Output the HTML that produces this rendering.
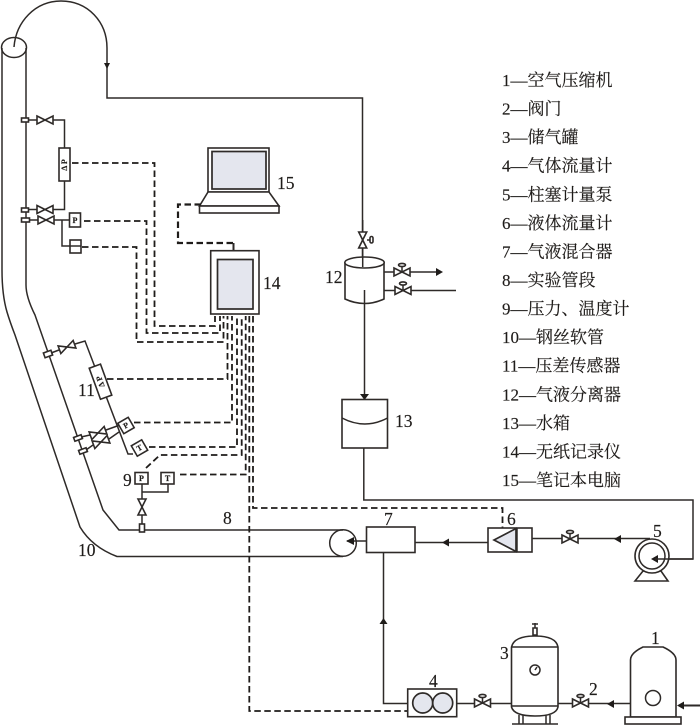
<!DOCTYPE html>
<html>
<head>
<meta charset="utf-8">
<style>
html,body{margin:0;padding:0;background:#fff;width:700px;height:725px;overflow:hidden}
svg{display:block}
.l{fill:none;stroke:#2e2a28;stroke-width:1.5}
.b{fill:#fff;stroke:#2e2a28;stroke-width:1.6}
.g{fill:#e4e6ee;stroke:#2e2a28;stroke-width:1.7}
.d{fill:none;stroke:#1f1c1a;stroke-width:1.8;stroke-dasharray:6.5 3.5}
.a{fill:#1f1c1a;stroke:none}
text{font-family:"Liberation Serif","Noto Serif CJK SC",serif;fill:#1f1c1a;stroke:#1f1c1a;stroke-width:.15}
.n{font-size:17.5px}
.t{font-size:17px}
.s{font-size:8px;font-family:"Liberation Serif",serif;font-weight:bold;text-anchor:middle}
</style>
</head>
<body>
<svg width="700" height="725" viewBox="0 0 700 725" xmlns="http://www.w3.org/2000/svg">
<defs>
<g id="v"><path class="b" d="M-8,-4 L8,4 L8,-4 L-8,4 Z"/></g>
<g id="vh"><path class="b" d="M-8,-4 L8,4 L8,-4 L-8,4 Z"/><path class="l" d="M0,0 V-6"/><ellipse class="b" cx="0" cy="-7" rx="3.5" ry="1.6"/></g>
</defs>

<!-- Pipe -->
<path class="l" d="M2,48 V270 Q2,295 7,312 Q10,322 15,335 L80,527 Q92,547 117,556.5 H343"/>
<path class="l" d="M26,48 V285 Q26,297 35,315 L103,510 L119,530 H343"/>
<ellipse class="l" cx="14" cy="47.5" rx="12.5" ry="10"/>
<circle class="l" cx="343" cy="543" r="13.3"/>

<!-- Arch -->
<path class="l" d="M14,47 C16,22 35,1 61,1 C88,1 107,22 107,48 V98 H362.5 V267"/>
<path class="a" d="M104,63 H110 L107,69 Z"/>

<!-- Upper taps -->
<rect class="b" x="21.5" y="118" width="7" height="4"/>
<use href="#v" x="45" y="120"/>
<path class="l" d="M28,120 H37 M53,120 H64.5 V148 M64.5,181 V209.5 H53 M37,209.5 H28 M28,220 H38 M54,220 H70 M62,220 V246 H70"/>
<rect class="b" x="21.5" y="208" width="7" height="4"/>
<use href="#v" x="45" y="209.5"/>
<rect class="b" x="21.5" y="218" width="8" height="4"/>
<use href="#v" x="46" y="220"/>
<rect class="b" x="59" y="148" width="11" height="33"/>
<text class="s" transform="translate(67,165) rotate(-90)">Δ P</text>
<rect class="b" x="69.5" y="213" width="11" height="14"/>
<text class="s" x="75" y="223">P</text>
<rect class="b" x="70" y="240" width="11" height="13"/>
<path class="l" d="M70,246 H81"/>

<!-- Lower taps -->
<g transform="translate(48,354) rotate(-20)"><rect class="b" x="-4" y="-2.5" width="8" height="5"/></g>
<g transform="translate(67,347) rotate(-20)"><use href="#v"/></g>
<path class="l" d="M51,353 L59,350 M75,344 L85,341 L128,454 L133,454"/>
<g transform="translate(100.5,381.7) rotate(-20)"><rect class="b" x="-6" y="-16.5" width="12" height="33"/>
<text class="s" transform="translate(2.5,0) rotate(-90)">Δ P</text></g>
<g transform="translate(78,438) rotate(-20)"><rect class="b" x="-4" y="-2" width="8" height="4"/></g>
<g transform="translate(98,433) rotate(-20)"><use href="#v"/></g>
<g transform="translate(83,451) rotate(-20)"><rect class="b" x="-4" y="-2" width="8" height="4"/></g>
<g transform="translate(101,442) rotate(-20)"><use href="#v"/></g>
<path class="l" d="M81,437 L90,435 M106,430 L120,425 M86,450 L93,445 M109,439 L119,432"/>
<g transform="translate(126,425.5) rotate(-30)"><rect class="b" x="-6" y="-6" width="12" height="12"/><text class="s" y="2.5">P</text></g>
<g transform="translate(139.5,448) rotate(-30)"><rect class="b" x="-6" y="-6" width="12" height="12"/><text class="s" y="2.5">T</text></g>

<!-- 9 -->
<rect class="b" x="135" y="472.5" width="13" height="11.5"/>
<text class="s" x="141.5" y="481">P</text>
<rect class="b" x="161" y="472.5" width="13" height="11.5"/>
<text class="s" x="167.5" y="481">T</text>
<path class="l" d="M142,484 V528 M168,484 V492 H142"/>
<g transform="translate(142,507) rotate(90)"><use href="#v"/></g>
<rect class="b" x="139.5" y="524" width="5" height="8"/>

<!-- Laptop -->
<rect class="b" x="208" y="148" width="61" height="44"/>
<rect class="g" x="212" y="151.5" width="54" height="37.5"/>
<path class="b" d="M208,192 L199.5,206 H279 L269,192 Z"/>
<rect class="b" x="199.5" y="206" width="79.5" height="7"/>
<path class="d" style="stroke-width:2.2" d="M201,204.5 H178 V243 H233.5"/>
<path class="l" style="stroke-width:2" d="M233.5,243 V250"/>

<!-- Recorder -->
<rect class="b" x="210.7" y="250.7" width="48.3" height="63.3"/>
<rect class="g" x="217.5" y="259.5" width="35.5" height="49.5"/>

<!-- Dashed signals -->
<path class="d" d="M72,163 H154.5 V326 H215 V316"/>
<path class="d" d="M84,221 H146.5 V333 H220 V316"/>
<path class="d" d="M82,247 H136.5 V342 H223.5 V316"/>
<path class="d" d="M107,379 H227.5 V316"/>
<path class="d" d="M134,422.5 H232 V316"/>
<path class="d" d="M149,447 H237 V316"/>
<path class="d" d="M146,468 L160,455 H241.7 V316"/>
<path class="d" d="M180,474.5 H245.7 V316"/>
<path class="d" d="M249.3,316 V711 H408"/>
<path class="d" d="M253,316 V508 H502.5 V528"/>

<!-- Separator -->
<path class="b" d="M345,262 V299 Q364.5,308 384,299 V262"/>
<ellipse class="b" cx="364.5" cy="262.5" rx="19.7" ry="5.5"/>
<path class="l" d="M362.7,220 V267"/>
<g transform="translate(362.7,240) rotate(90)"><use href="#v"/></g>
<path class="l" d="M367,240 H370"/><rect class="b" x="370" y="236.5" width="3" height="6.5" rx="1.5"/>
<path class="l" d="M384,272 H394 M410,272 H437 M384,290.5 H395 M411,290.5 H456"/>
<use href="#vh" x="402" y="272"/>
<use href="#vh" x="403" y="290.5"/>
<path class="a" d="M436,268 L443,272 L436,276 Z"/>
<path class="l" d="M364.5,290 V399"/>
<path class="a" d="M360,394 H369 L364.5,400 Z"/>

<!-- Tank 13 -->
<rect class="b" x="342" y="399.5" width="45.5" height="48.5"/>
<path class="l" d="M342,418 Q365,430 387.5,418"/>
<path class="l" d="M363.8,448 V500 H693 V559 H655"/>

<!-- Pump 5 -->
<path class="b" d="M635,581 L643,571 H661 L668,581 Z"/>
<circle class="b" cx="652" cy="556" r="17"/>
<circle class="l" cx="652" cy="556" r="13"/>
<path class="a" d="M658,555 L651,559 L658,563 Z"/>
<path class="l" d="M655,559 H693"/>
<path class="l" d="M532,538.5 H562 M578,538.5 H650"/>
<use href="#vh" x="570" y="539"/>
<path class="a" d="M621,535 L614,539 L621,543 Z"/>

<!-- 6 -->
<rect class="b" x="488" y="528" width="44" height="24"/>
<path class="l" d="M517,528 V552"/>
<path class="g" d="M494,540 L516,528.5 V551.5 Z"/>
<path class="l" d="M415,542.5 H488"/>
<path class="a" d="M449,538.5 L442,542.5 L449,546.5 Z"/>

<!-- 7 -->
<rect class="b" x="366.5" y="527" width="48.5" height="25.5"/>
<path class="l" d="M347,541 H366.5"/>
<path class="a" d="M354,537 L346,541 L354,545 Z"/>
<path class="l" d="M383.5,552.5 V703.5 H408"/>
<path class="a" d="M383.5,618 L387.5,624 H379.5 Z"/>

<!-- 4 -->
<rect class="b" x="407.7" y="689" width="49" height="27.7"/>
<circle class="g" cx="422.7" cy="703" r="10"/>
<circle class="g" cx="442.7" cy="703" r="10"/>
<path class="l" d="M456.7,703.5 H474 M490,703.5 H512"/>
<use href="#vh" x="482.5" y="703"/>

<!-- 3 Tank -->
<path class="b" d="M511.5,647 Q514,636 535,636 Q556,636 558,647 V707 Q556,716 535,716 Q514,716 511.5,707 Z"/>
<path class="l" d="M511.5,647 H558 M511.5,706 H558"/>
<circle class="l" cx="535" cy="670" r="5"/>
<path class="l" d="M535,670 L537,667"/>
<path class="b" d="M533,628 H537 V635 H533 Z"/>
<path class="l" d="M535,623 V628 M532,624 H538"/>
<path class="l" d="M519,715 V724 M523,715 V724 M546,715 V724 M550,715 V724 M512,724 H558"/>

<!-- Valve 2 & Compressor 1 -->
<path class="l" d="M558,703.5 H572 M589,703.5 H630"/>
<use href="#vh" x="580.5" y="703"/>
<path class="a" d="M614,700 L607,704 L614,708 Z"/>
<path class="b" d="M630.5,717 V660 Q630.5,653 643,647 H663 Q676,653 676,660 V717 Z"/>
<circle class="l" cx="653" cy="698" r="7.5"/>
<rect class="b" x="625" y="717" width="56" height="7"/>
<path class="l" style="stroke-width:2" d="M683,705.5 H700"/>
<path class="a" d="M684,701.5 L677,705.5 L684,709.5 Z"/>

<!-- Number labels -->
<text class="n" x="277" y="189">15</text>
<text class="n" x="263" y="289">14</text>
<text class="n" x="325" y="283">12</text>
<text class="n" x="395" y="427">13</text>
<text class="n" x="78" y="396">11</text>
<text class="n" x="78" y="556">10</text>
<text class="n" x="123" y="486">9</text>
<text class="n" x="223" y="524">8</text>
<text class="n" x="384" y="525">7</text>
<text class="n" x="507" y="525">6</text>
<text class="n" x="653" y="537">5</text>
<text class="n" x="429" y="687">4</text>
<text class="n" x="500" y="659">3</text>
<text class="n" x="589" y="695">2</text>
<text class="n" x="651" y="644">1</text>

<!-- Legend -->
<text class="t" x="502" y="86">1—空气压缩机</text>
<text class="t" x="502" y="114.6">2—阀门</text>
<text class="t" x="502" y="143.1">3—储气罐</text>
<text class="t" x="502" y="171.7">4—气体流量计</text>
<text class="t" x="502" y="200.3">5—柱塞计量泵</text>
<text class="t" x="502" y="228.9">6—液体流量计</text>
<text class="t" x="502" y="257.4">7—气液混合器</text>
<text class="t" x="502" y="286">8—实验管段</text>
<text class="t" x="502" y="314.6">9—压力、温度计</text>
<text class="t" x="502" y="343.1">10—钢丝软管</text>
<text class="t" x="502" y="371.7">11—压差传感器</text>
<text class="t" x="502" y="400.3">12—气液分离器</text>
<text class="t" x="502" y="428.9">13—水箱</text>
<text class="t" x="502" y="457.4">14—无纸记录仪</text>
<text class="t" x="502" y="486">15—笔记本电脑</text>
</svg>
</body>
</html>
